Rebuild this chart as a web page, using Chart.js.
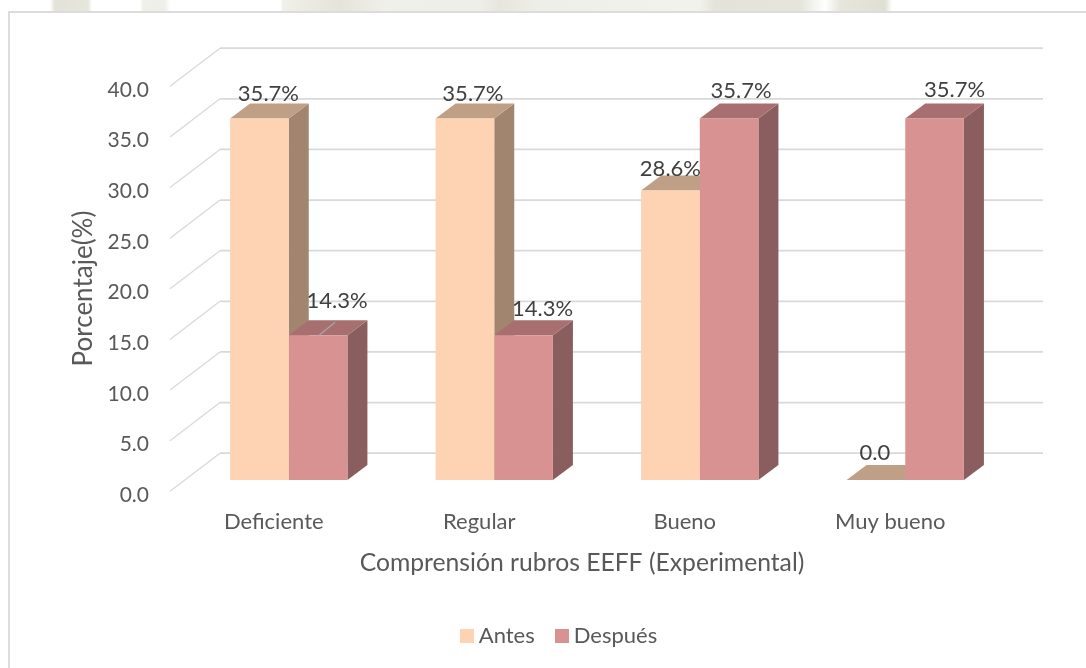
<!DOCTYPE html>
<html><head><meta charset="utf-8">
<style>
html,body{margin:0;padding:0;background:#fff;width:1086px;height:668px;overflow:hidden}
#strip{position:absolute;left:0;top:0;width:1086px;height:12px;background:linear-gradient(90deg,#fff 50px,#e3e3d9 55px,#e6e6dd 88px,#fff 92px,#fff 140px,#f0f0ea 143px,#efefe9 165px,#fff 170px,#fff 280px,#f0f0ea 283px,#e4e4da 340px,#f0f0ea 385px,#efefe9 480px,#e6e6dd 500px,#efefe9 540px,#f2f2ed 700px,#e3e3da 715px,#e5e5dc 800px,#fff 825px,#e6e6dc 840px,#dfdfd4 885px,#fff 892px)}
#frame{position:absolute;left:8px;top:11px;width:1090px;height:670px;border:2px solid #dcdcdc;background:#fff;box-sizing:border-box}
canvas{position:absolute;left:0;top:0}
</style>
<script src="https://cdn.jsdelivr.net/npm/chart.js@4"></script>
</head><body>
<div id="strip"></div><div id="frame"></div>
<canvas id="c" width="1086" height="690"></canvas>
<script>
const categories = ["Deficiente","Regular","Bueno","Muy bueno"];
const antes = [35.7,35.7,28.6,0.0];
const despues = [14.3,14.3,35.7,35.7];
const antesLabels = ["35.7%","35.7%","28.6%","0.0"];
const despuesLabels = ["14.3%","14.3%","35.7%","35.7%"];
const FONT = "Lato";
const GREY = "#595959";
const faces = [
  {front:"#FDD3B3", top:"#BF9F86", side:"#A2856F"},
  {front:"#D89292", top:"#A76F6F", side:"#8A5E5E"}
];
const DX = 20, DY = 15;
// label offsets relative to the bar's top centre: [dx, dy]
const labelShift = [
  [[9,-25],[8,-25],[0,-22],[-1,-27]],
  [[19,-34],[19,-26],[12,-28],[20,-29]]
];
const leaders = {"1,0":[1,0,16,-13],"3,1":[-2,0,22,-13]};
const swatches = faces.map(f=>{
  const c=document.createElement("canvas");c.width=14;c.height=14;
  const x=c.getContext("2d");x.fillStyle=f.front;x.fillRect(0,0,14,14);return c;
});
const scene = {
  id:"scene",
  beforeDatasetsDraw(chart){
    const {ctx,scales:{y}} = chart;
    ctx.save();
    ctx.strokeStyle="#D9D9D9";
    y.ticks.forEach(t=>{
      const p=y.getPixelForValue(t.value);
      ctx.lineWidth=1.3;
      ctx.beginPath();ctx.moveTo(170,p+11.3);ctx.lineTo(220,p-26.8);ctx.stroke();
      ctx.lineWidth=1.8;
      ctx.beginPath();ctx.moveTo(220,p-26.8);ctx.lineTo(1043,p-26.8);ctx.stroke();
    });
    categories.forEach((_,i)=>{
      chart.data.datasets.forEach((ds,d)=>{
        const b=chart.getDatasetMeta(d).data[i];
        const l=b.x-b.width/2,r=b.x+b.width/2,t=b.y,bot=b.base;
        ctx.fillStyle=faces[d].side;
        ctx.beginPath();ctx.moveTo(r,t);ctx.lineTo(r+DX,t-DY);ctx.lineTo(r+DX,bot-DY);ctx.lineTo(r,bot);ctx.closePath();ctx.fill();
        ctx.fillStyle=faces[d].top;
        ctx.beginPath();ctx.moveTo(l,t);ctx.lineTo(l+DX,t-DY);ctx.lineTo(r+DX,t-DY);ctx.lineTo(r,t);ctx.closePath();ctx.fill();
      });
    });
    ctx.restore();
  },
  afterDatasetsDraw(chart){
    const {ctx}=chart;
    ctx.save();
    ctx.font="22px "+FONT;ctx.fillStyle="#404040";ctx.textAlign="center";ctx.textBaseline="middle";
    [antesLabels,despuesLabels].forEach((labels,d)=>{
      labels.forEach((txt,i)=>{
        const b=chart.getDatasetMeta(d).data[i];
        const lead=leaders[d+","+i];
        if(lead){
          ctx.strokeStyle="#A6A6A6";ctx.lineWidth=1.3;
          ctx.beginPath();ctx.moveTo(b.x+lead[0],b.y+lead[1]);ctx.lineTo(b.x+lead[0]+lead[2],b.y+lead[1]+lead[3]);ctx.stroke();
        }
        ctx.fillText(txt,b.x+labelShift[d][i][0],b.y+labelShift[d][i][1]);
      });
    });
    ctx.restore();
  },
  afterLayout(chart){
    const shift=(sc,dx,dy)=>{
      const orig=Object.getPrototypeOf(sc).drawTitle||sc.drawTitle;
      sc.drawTitle=function(){const c=this.ctx;c.save();c.translate(dx,dy);orig.call(this);c.restore();};
    };
    shift(chart.scales.x,-15,0);
    shift(chart.scales.y,-47,11);
    chart.scales.y._computeLabelArea=()=>undefined;
  }
};
new Chart(document.getElementById("c"),{
  type:"bar",
  data:{labels:categories,datasets:[
    {label:"Antes",data:antes,backgroundColor:faces[0].front,categoryPercentage:0.571,barPercentage:1,borderWidth:0},
    {label:"Después",data:despues,backgroundColor:faces[1].front,categoryPercentage:0.571,barPercentage:1,borderWidth:0}
  ]},
  plugins:[scene],
  options:{
    responsive:false,animation:false,
    layout:{padding:{left:115,right:78,top:75,bottom:33}},
    scales:{
      x:{
        grid:{display:false},border:{display:false},
        ticks:{color:GREY,font:{family:FONT,size:22},padding:21,maxRotation:0,labelOffset:-15},
        title:{display:true,text:"Comprensión rubros EEFF (Experimental)",color:GREY,font:{family:FONT,size:24.7},padding:{top:14,bottom:21}},
        afterFit(s){s.height=119;}
      },
      y:{
        min:0,max:40,
        grid:{display:false},border:{display:false},
        ticks:{stepSize:5,color:GREY,font:{family:FONT,size:21},padding:29,labelOffset:15,callback:v=>v.toFixed(1)},
        title:{display:true,text:"Porcentaje(%)",color:GREY,font:{family:FONT,size:26},padding:{top:0,bottom:6}},
        afterFit(s){s.width=71;}
      }
    },
    plugins:{
      tooltip:{enabled:false},
      legend:{position:"bottom",labels:{color:GREY,usePointStyle:true,pointStyleWidth:2,boxHeight:14,padding:26,font:{family:FONT,size:22},
        generateLabels(chart){
          return Chart.defaults.plugins.legend.labels.generateLabels(chart).map((it,i)=>({...it,pointStyle:swatches[i]}));
        }}}
    }
  }
});
</script>
</body></html>
